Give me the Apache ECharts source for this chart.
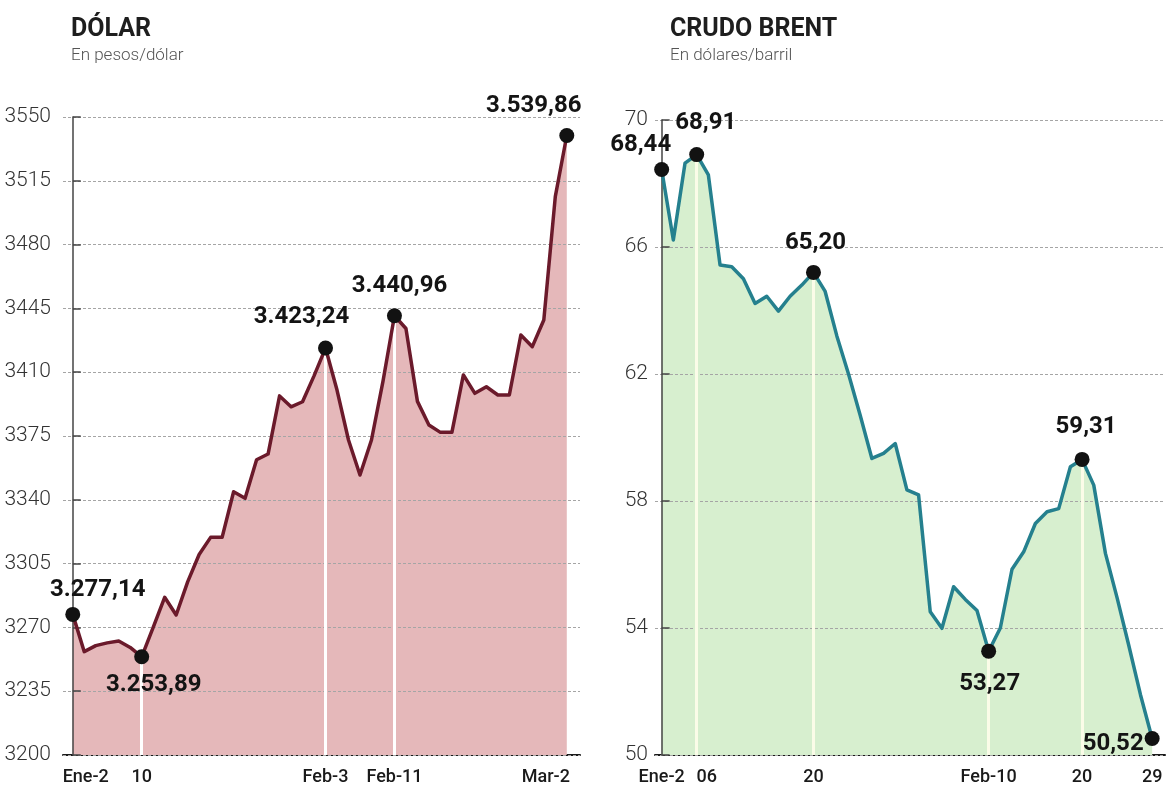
<!DOCTYPE html>
<html>
<head>
<meta charset="utf-8">
<script src="https://cdn.jsdelivr.net/npm/echarts@6/dist/echarts.min.js"></script>
<style>
  html, body { margin: 0; padding: 0; background: #fff; }
  #main { width: 1171px; height: 795px; }
</style>
</head>
<body>
<div id="main"></div>
<script>
// Dólar, en pesos/dólar (un punto por día hábil)
const dolarValues = [
  3277.14, 3256.7, 3260, 3261.5, 3262.5, 3259, 3253.89,
  3270, 3286.5, 3276.8, 3295, 3310, 3319.4, 3319.4, 3344.4, 3340.8,
  3362, 3365.1, 3397, 3391, 3393.8, 3408, 3423.24,
  3400.2, 3372.8, 3353.6, 3372.8, 3405, 3440.96,
  3434, 3394, 3381, 3377, 3377, 3408.5, 3398.4, 3402, 3397.5, 3397.5,
  3430.4, 3424, 3438.6, 3506.3, 3539.86
];
const dolarTickIdx = [0, 6, 22, 28, 43];
const dolarTickText = ['Ene-2', '10', 'Feb-3', 'Feb-11', 'Mar-2'];
const dolarMarked = [0, 6, 22, 28, 43];
const dolarGuides = [6, 22, 28];

// Crudo Brent, en dólares/barril
const brentValues = [
  68.44, 66.22, 68.64, 68.91, 68.27, 65.43, 65.38, 65.0, 64.22, 64.45,
  63.98, 64.45, 64.8, 65.20, 64.6, 63.2, 62.0, 60.7, 59.34, 59.5,
  59.81, 58.35, 58.19, 54.51, 53.99, 55.3, 54.9, 54.55, 53.27, 54.0,
  55.85, 56.4, 57.29, 57.66, 57.76, 59.08, 59.31, 58.5, 56.35, 54.95,
  53.45, 51.9, 50.52
];
const brentTickIdx = [0, 3, 13, 28, 36, 42];
const brentTickText = ['Ene-2', '06', '20', 'Feb-10', '20', '29'];
const brentMarked = [0, 3, 13, 28, 36, 42];
const brentGuides = [3, 13, 28, 36];

// label placement (px offsets from the dot)
const dolarLabelOffset = { 0: [25, -24], 6: [12, 28], 22: [-24, -31], 28: [5, -30], 43: [-33, -29] };
const brentLabelOffset = { 0: [-21, -25], 3: [9, -32], 13: [2, -29], 28: [1, 33], 36: [4, -32], 42: [-39, 6] };

function fmtEs(v) {
  const [ent, dec] = v.toFixed(2).split('.');
  return ent.replace(/\B(?=(\d{3})+(?!\d))/g, '.') + ',' + dec;
}

const chart = echarts.init(document.getElementById('main'));

function panel(idx, values, tickIdx, tickText, marked, guides, offsets, cfg) {
  const xAxis = {
    gridIndex: idx,
    type: 'value',
    min: cfg.xMin,
    max: cfg.xMax,
    axisLine: { show: true, lineStyle: { color: '#1a1a1a', width: 2 } },
    axisTick: { show: false },
    splitLine: { show: false },
    axisLabel: {
      customValues: tickIdx,
      margin: 13,
      fontFamily: 'Roboto',
      fontSize: 18,
      fontWeight: 500,
      color: '#1a1a1a',
      formatter: (v) => {
        const t = tickText[tickIdx.indexOf(v)];
        const k = cfg.labelShift[v];
        return k ? '{' + k + '|' + t + '}' : t;
      },
      rich: {
        l: { padding: [0, 0, 0, cfg.padL], fontFamily: 'Roboto', fontSize: 18, fontWeight: 500, color: '#1a1a1a' },
        r: { padding: [0, cfg.padR, 0, 0], fontFamily: 'Roboto', fontSize: 18, fontWeight: 500, color: '#1a1a1a' }
      }
    }
  };
  const yAxis = {
    gridIndex: idx,
    type: 'value',
    min: cfg.yMin,
    max: cfg.yMax,
    interval: cfg.yInt,
    z: 3,
    axisLine: { show: true, lineStyle: { color: '#444', width: 1.5 } },
    axisTick: { show: true, inside: true, length: 8, lineStyle: { color: '#444', width: 1.5 } },
    splitLine: { show: true, lineStyle: { color: '#a5a5a5', width: 1, type: [3, 2] } },
    axisLabel: {
      margin: cfg.yMargin,
      fontFamily: 'Roboto',
      fontSize: 21,
      fontWeight: 300,
      color: '#333',
      formatter: (v) => String(v)
    }
  };
  const pts = values.map((v, i) => [i, v]);
  const series = [
    {
      type: 'line',
      xAxisIndex: idx,
      yAxisIndex: idx,
      data: pts,
      z: 1,
      symbol: 'none',
      lineStyle: { width: 0 },
      areaStyle: { color: cfg.fill, opacity: 1, origin: 'start' },
      markLine: {
        silent: true,
        symbol: 'none',
        label: { show: false },
        lineStyle: { color: cfg.guide, width: 3, type: 'solid' },
        data: guides.map((i) => [{ coord: [i, cfg.yMin] }, { coord: [i, values[i]] }])
      }
    },
    {
      type: 'line',
      xAxisIndex: idx,
      yAxisIndex: idx,
      data: pts,
      z: 10,
      symbol: 'none',
      lineStyle: { color: cfg.stroke, width: 3.5, join: 'round' }
    },
    {
      type: 'scatter',
      xAxisIndex: idx,
      yAxisIndex: idx,
      z: 12,
      symbol: 'circle',
      symbolSize: 15,
      itemStyle: { color: '#121212', opacity: 1 },
      data: marked.map((i) => ({
        value: [i, values[i]],
        label: {
          show: true,
          position: 'inside',
          offset: offsets[i],
          formatter: fmtEs(values[i]),
          fontFamily: 'Roboto',
          fontSize: 24,
          fontWeight: 'bold',
          color: '#141414',
          opacity: 1
        }
      }))
    }
  ];
  return { xAxis, yAxis, series };
}

const left = panel(0, dolarValues, dolarTickIdx, dolarTickText, dolarMarked, dolarGuides, dolarLabelOffset, {
  xMin: -0.85, xMax: 44.15, yMin: 3200, yMax: 3550, yInt: 35, yMargin: 12,
  fill: '#e5b8ba', stroke: '#6b1a2b', guide: '#ffffff',
  labelShift: { 0: 'l', 43: 'r' }, padL: 26, padR: 42
});
const right = panel(1, brentValues, brentTickIdx, brentTickText, brentMarked, brentGuides, brentLabelOffset, {
  xMin: -0.57, xMax: 43.1, yMin: 50, yMax: 70, yInt: 4, yMargin: 7,
  fill: '#d7efcf', stroke: '#25808e', guide: '#fbfce8',
  labelShift: { 3: 'l' }, padL: 20, padR: 0
});

const option = {
  backgroundColor: '#ffffff',
  animation: false,
  title: [
    {
      text: 'DÓLAR',
      subtext: 'En pesos/dólar',
      left: 66,
      top: 12,
      itemGap: 5,
      textStyle: { fontFamily: 'Roboto', fontSize: 25, fontWeight: 700, color: '#1e1e1e' },
      subtextStyle: { fontFamily: 'Roboto', fontSize: 17, fontWeight: 300, color: '#555' }
    },
    {
      text: 'CRUDO BRENT',
      subtext: 'En dólares/barril',
      left: 665,
      top: 12,
      itemGap: 5,
      textStyle: { fontFamily: 'Roboto', fontSize: 25, fontWeight: 700, color: '#1e1e1e' },
      subtextStyle: { fontFamily: 'Roboto', fontSize: 17, fontWeight: 300, color: '#555' }
    }
  ],
  grid: [
    { left: 63, top: 117, width: 517, height: 638 },
    { left: 655, top: 120, width: 510, height: 635 }
  ],
  xAxis: [left.xAxis, right.xAxis],
  yAxis: [left.yAxis, right.yAxis],
  series: [...left.series, ...right.series]
};

chart.setOption(option);
</script>
</body>
</html>
